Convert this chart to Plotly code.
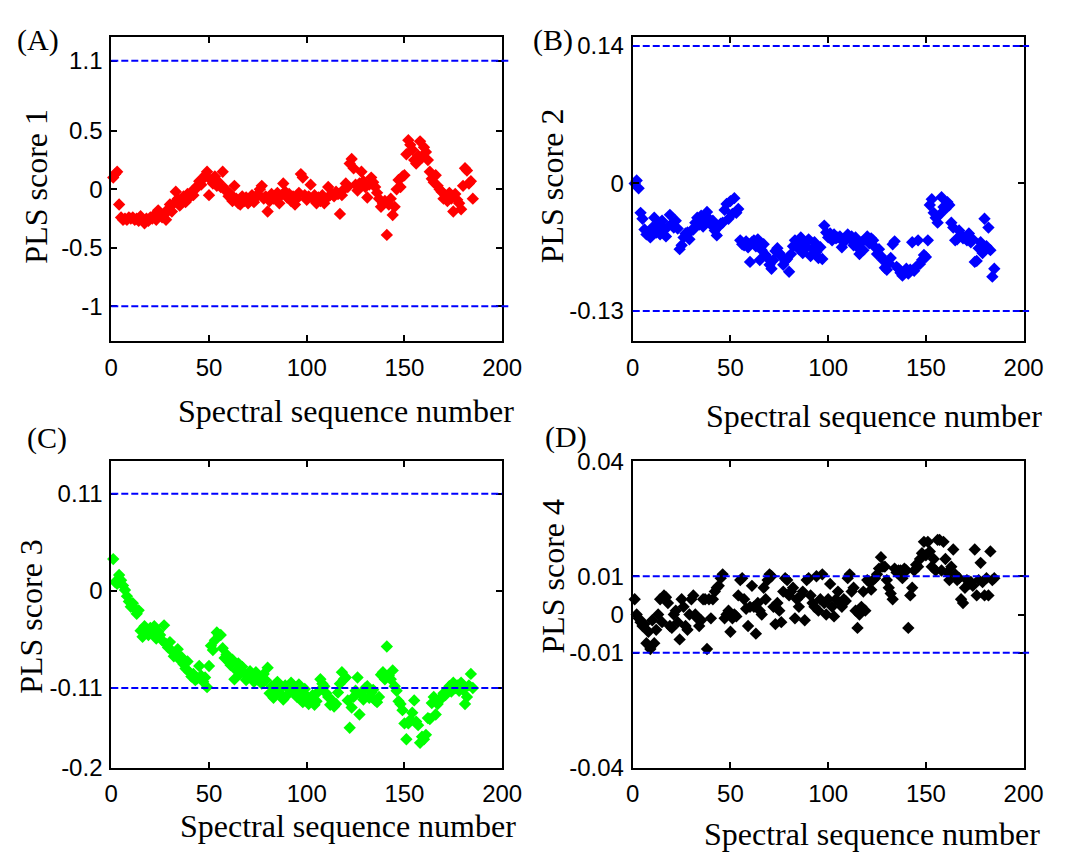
import plotly.graph_objects as go

# Spectral sequence numbers (x) shared by all four score plots
seq_numbers = list(range(1, 186))

# PLS score 1 (red)
pls_score1 = [
    0.10, 0.13, 0.15, -0.13, -0.24, -0.26, -0.25, -0.26, -0.24, -0.25,
    -0.24, -0.26, -0.25, -0.27, -0.23, -0.26, -0.29, -0.25, -0.27, -0.24,
    -0.25, -0.22, -0.26, -0.18, -0.21, -0.24, -0.22, -0.26, -0.17, -0.13,
    -0.19, -0.12, -0.02, -0.08, -0.14, -0.09, -0.06, -0.11, -0.04, -0.07,
    -0.02, -0.05, 0.00, 0.03, 0.07, 0.04, 0.09, 0.12, 0.15, -0.05,
    0.08, 0.05, 0.11, 0.03, 0.06, 0.02, 0.15, 0.01, -0.02, -0.06,
    -0.04, -0.10, 0.03, -0.08, -0.12, -0.13, -0.06, -0.10, -0.07, -0.12,
    -0.09, -0.05, -0.11, -0.07, -0.04, 0.00, 0.03, -0.08, -0.06, -0.19,
    -0.10, -0.04, -0.08, -0.06, -0.03, -0.12, -0.05, 0.05, -0.02, -0.07,
    -0.04, -0.10, -0.06, -0.13, -0.08, -0.03, 0.13, 0.10, -0.05, -0.09,
    -0.06, 0.04, -0.08, -0.05, -0.12, -0.07, -0.10, -0.05, -0.12, -0.08,
    0.02, -0.05, -0.04, -0.06, -0.02, -0.04, -0.21, -0.05, 0.00, 0.05,
    0.02, 0.22, 0.26, 0.18, 0.04, -0.01, 0.05, 0.15, 0.07, 0.02,
    -0.07, 0.04, 0.10, 0.06, 0.02, -0.03, -0.08, -0.15, -0.12, -0.10,
    -0.39, -0.13, -0.08, -0.22, -0.15, 0.00, 0.08, 0.02, 0.11, 0.12,
    0.30, 0.42, 0.38, 0.34, 0.25, 0.22, 0.29, 0.41, 0.27, 0.36,
    0.32, 0.25, 0.15, 0.09, 0.06, 0.12, 0.03, 0.00, -0.02, -0.08,
    -0.05, -0.10, -0.03, -0.08, -0.19, -0.04, -0.09, -0.12, -0.17, 0.03,
    0.18, 0.16, 0.05, 0.07, -0.08,
]

# PLS score 2 (blue)
pls_score2 = [
    0.000, 0.003, -0.005, -0.030, -0.036, -0.047, -0.052, -0.050, -0.055, -0.045,
    -0.035, -0.050, -0.042, -0.052, -0.038, -0.047, -0.054, -0.044, -0.032, -0.041,
    -0.045, -0.038, -0.046, -0.067, -0.063, -0.055, -0.051, -0.050, -0.057, -0.048,
    -0.047, -0.040, -0.035, -0.042, -0.033, -0.044, -0.040, -0.029, -0.036, -0.042,
    -0.038, -0.048, -0.053, -0.044, -0.041, -0.040, -0.027, -0.021, -0.036, -0.018,
    -0.031, -0.015, -0.030, -0.026, -0.058, -0.062, -0.063, -0.059, -0.065, -0.080,
    -0.060, -0.058, -0.064, -0.057, -0.078, -0.068, -0.062, -0.073, -0.076, -0.083,
    -0.087, -0.078, -0.069, -0.066, -0.071, -0.074, -0.083, -0.079, -0.077, -0.090,
    -0.072, -0.064, -0.058, -0.062, -0.067, -0.055, -0.071, -0.061, -0.065, -0.057,
    -0.074, -0.066, -0.060, -0.070, -0.076, -0.065, -0.077, -0.043, -0.050, -0.055,
    -0.051, -0.058, -0.052, -0.056, -0.055, -0.054, -0.065, -0.060, -0.057, -0.052,
    -0.056, -0.054, -0.063, -0.055, -0.065, -0.072, -0.060, -0.068, -0.057, -0.054,
    -0.061, -0.056, -0.058, -0.065, -0.072, -0.067, -0.074, -0.078, -0.086, -0.088,
    -0.081, -0.076, -0.062, -0.059, -0.085, -0.087, -0.091, -0.094, -0.090, -0.087,
    -0.092, -0.088, -0.060, -0.089, -0.085, -0.058, -0.082, -0.078, -0.073, -0.075,
    -0.058, -0.022, -0.016, -0.030, -0.035, -0.040, -0.032, -0.014, -0.024, -0.026,
    -0.019, -0.022, -0.040, -0.045, -0.058, -0.057, -0.048, -0.052, -0.056, -0.055,
    -0.058, -0.051, -0.060, -0.057, -0.080, -0.079, -0.066, -0.060, -0.071, -0.036,
    -0.064, -0.045, -0.068, -0.095, -0.087,
]

# PLS score 3 (green)
pls_score3 = [
    0.036, 0.010, 0.008, 0.018, 0.012, 0.006, 0.001, -0.006, -0.012, -0.018,
    -0.014, -0.020, -0.026, -0.022, -0.045, -0.052, -0.040, -0.044, -0.050, -0.042,
    -0.047, -0.040, -0.054, -0.046, -0.050, -0.056, -0.039, -0.060, -0.064, -0.058,
    -0.068, -0.074, -0.070, -0.066, -0.078, -0.075, -0.083, -0.088, -0.080, -0.092,
    -0.097, -0.094, -0.101, -0.099, -0.085, -0.096, -0.103, -0.098, -0.109, -0.085,
    -0.062, -0.067, -0.056, -0.047, -0.050, -0.050, -0.065, -0.076, -0.072, -0.080,
    -0.084, -0.078, -0.100, -0.090, -0.082, -0.094, -0.086, -0.093, -0.101, -0.097,
    -0.091, -0.096, -0.103, -0.092, -0.100, -0.097, -0.105, -0.094, -0.101, -0.087,
    -0.116, -0.108, -0.121, -0.112, -0.103, -0.115, -0.109, -0.123, -0.107, -0.118,
    -0.111, -0.104, -0.114, -0.109, -0.120, -0.106, -0.113, -0.126, -0.111, -0.119,
    -0.128, -0.123, -0.118, -0.129, -0.125, -0.114, -0.100, -0.105, -0.108, -0.116,
    -0.120, -0.129, -0.124, -0.131, -0.128, -0.115, -0.105, -0.092, -0.100, -0.098,
    -0.124, -0.155, -0.132, -0.120, -0.113, -0.098, -0.140, -0.117, -0.123, -0.110,
    -0.108, -0.121, -0.115, -0.112, -0.124, -0.126, -0.120, -0.095, -0.092, -0.100,
    -0.063, -0.096, -0.100, -0.090, -0.108, -0.113, -0.125, -0.128, -0.135, -0.150,
    -0.168, -0.150, -0.146, -0.138, -0.124, -0.148, -0.152, -0.172, -0.165, -0.168,
    -0.163, -0.144, -0.145, -0.127, -0.120, -0.140, -0.128, -0.124, -0.120, -0.116,
    -0.118, -0.112, -0.108, -0.114, -0.104, -0.110, -0.107, -0.113, -0.104, -0.112,
    -0.128, -0.120, -0.107, -0.094, -0.110,
]

# PLS score 4 (black)
pls_score4 = [
    0.0040, 0.0000, -0.0010, -0.0020, -0.0030, -0.0025, -0.0075, -0.0045, -0.0090, -0.0015,
    -0.0075, -0.0040, 0.0000, 0.0040, -0.0020, 0.0050, 0.0045, 0.0030, -0.0030, -0.0035,
    0.0000, 0.0010, -0.0020, -0.0065, 0.0040, 0.0020, -0.0030, -0.0040, 0.0000, 0.0040,
    0.0050, 0.0000, -0.0010, -0.0030, -0.0015, 0.0040, 0.0040, -0.0090, 0.0040, -0.0010,
    0.0040, 0.0060, 0.0070, 0.0075, 0.0095, 0.0105, -0.0010, 0.0000, 0.0010, -0.0045,
    -0.0010, 0.0000, -0.0005, 0.0050, 0.0090, 0.0095, 0.0040, 0.0015, -0.0030, 0.0020,
    0.0075, 0.0020, -0.0050, 0.0030, 0.0010, 0.0000, 0.0070, 0.0040, 0.0090, 0.0105,
    0.0100, 0.0020, -0.0025, 0.0030, 0.0010, -0.0020, 0.0060, 0.0095, 0.0090, 0.0050,
    0.0060, 0.0070, -0.0010, 0.0040, 0.0020, 0.0050, 0.0060, -0.0015, 0.0090, 0.0095,
    0.0050, 0.0030, 0.0020, 0.0100, 0.0010, 0.0040, 0.0105, 0.0030, 0.0000, 0.0040,
    0.0080, 0.0020, -0.0005, 0.0040, 0.0060, 0.0030, 0.0020, 0.0040, 0.0035, 0.0095,
    0.0105, 0.0060, 0.0070, 0.0010, -0.0035, 0.0000, 0.0020, 0.0060, 0.0010, 0.0090,
    0.0085, 0.0065, 0.0090, 0.0095, 0.0105, 0.0120, 0.0150, 0.0125, 0.0125, 0.0090,
    0.0070, 0.0055, 0.0040, 0.0120, 0.0110, 0.0115, 0.0115, 0.0095, 0.0120, 0.0115,
    -0.0035, 0.0050, 0.0070, 0.0115, 0.0130, 0.0125, 0.0145, 0.0160, 0.0190, 0.0155,
    0.0190, 0.0165, 0.0125, 0.0145, 0.0115, 0.0195, 0.0195, 0.0115, 0.0190, 0.0145,
    0.0110, 0.0090, 0.0125, 0.0170, 0.0105, 0.0090, 0.0095, 0.0040, 0.0030, 0.0070,
    0.0090, 0.0080, 0.0085, 0.0075, 0.0170, 0.0050, 0.0090, 0.0135, 0.0085, 0.0050,
    0.0095, 0.0050, 0.0165, 0.0090, 0.0095,
]

# Control limits drawn as dashed lines
limits_score1 = [1.1, -1.0]
limits_score2 = [0.14, -0.13]
limits_score3 = [0.11, -0.11]
limits_score4 = [0.01, -0.01]

# Axis ticks
x_ticks = [0, 50, 100, 150, 200]
y_ticks1 = [-1.0, -0.5, 0.0, 0.5, 1.1]
y_ticktext1 = ["-1", "-0.5", "0", "0.5", "1.1"]
y_ticks2 = [-0.13, 0.0, 0.14]
y_ticktext2 = ["-0.13", "0", "0.14"]
y_ticks3 = [-0.2, -0.11, 0.0, 0.11]
y_ticktext3 = ["-0.2", "-0.11", "0", "0.11"]
y_ticks4 = [-0.04, -0.01, 0.0, 0.01, 0.04]
y_ticktext4 = ["-0.04", "-0.01", "0", "0.01", "0.04"]

W, H = 1067, 859
SERIF = "Liberation Serif, Times New Roman, serif"
SANS = "Liberation Sans, Arial, sans-serif"


def px(x):
    return x / W


def py(y):
    return 1 - y / H


panels = [
    dict(label="(A)", values=pls_score1, color="#ff0000", limits=limits_score1,
         yrange=[-1.3, 1.3], yticks=y_ticks1, yticktext=y_ticktext1,
         ytitle="PLS score 1", box=(107, 508, 24, 338), line_ext=1.022,
         label_pos=(32, 27), ytitle_pos=(30, 178), xtitle_pos=(348, 410)),
    dict(label="(B)", values=pls_score2, color="#0000ff", limits=limits_score2,
         yrange=[-0.161, 0.149], yticks=y_ticks2, yticktext=y_ticktext2,
         ytitle="PLS score 2", box=(642, 1043, 24, 338), line_ext=1.014,
         label_pos=(560, 27), ytitle_pos=(560, 177), xtitle_pos=(889, 415)),
    dict(label="(C)", values=pls_score3, color="#00ff00", limits=limits_score3,
         yrange=[-0.2, 0.1465], yticks=y_ticks3, yticktext=y_ticktext3,
         ytitle="PLS score 3", box=(107, 508, 462, 778), line_ext=1.0,
         label_pos=(41, 438), ytitle_pos=(25, 622), xtitle_pos=(350, 838)),
    dict(label="(D)", values=pls_score4, color="#000000", limits=limits_score4,
         yrange=[-0.04, 0.04], yticks=y_ticks4, yticktext=y_ticktext4,
         ytitle="PLS score 4", box=(642, 1043, 462, 778), line_ext=1.014,
         label_pos=(573, 437), ytitle_pos=(560, 580), xtitle_pos=(887, 847)),
]

fig = go.Figure()
layout = dict(
    width=W, height=H,
    margin=dict(l=0, r=0, t=0, b=0),
    paper_bgcolor="white", plot_bgcolor="white",
    showlegend=False,
    shapes=[], annotations=[],
)

for i, p in enumerate(panels, start=1):
    xa = "x" if i == 1 else f"x{i}"
    ya = "y" if i == 1 else f"y{i}"
    left, right, top, bottom = p["box"]

    fig.add_trace(go.Scatter(
        x=seq_numbers[:len(p["values"])], y=p["values"],
        mode="markers", xaxis=xa, yaxis=ya,
        marker=dict(symbol="diamond", size=9.5, color=p["color"],
                    line=dict(width=0)),
        cliponaxis=False,
    ))

    axis_common = dict(
        showline=True, linecolor="black", linewidth=2, mirror="ticks",
        ticks="inside", ticklen=6, tickwidth=1.5, tickcolor="black",
        showgrid=False, zeroline=False,
        tickfont=dict(family=SANS, size=24, color="black"),
    )
    layout[f"xaxis{'' if i == 1 else i}"] = dict(
        axis_common, domain=[px(left), px(right)], range=[0, 200],
        tickvals=x_ticks, ticktext=[str(v) for v in x_ticks],
        anchor=ya, ticklabelstandoff=4,
    )
    layout[f"yaxis{'' if i == 1 else i}"] = dict(
        axis_common, domain=[py(bottom), py(top)], range=p["yrange"],
        tickvals=p["yticks"], ticktext=p["yticktext"],
        anchor=xa, ticklabelstandoff=2,
    )

    # dashed control limits
    for lim in p["limits"]:
        layout["shapes"].append(dict(
            type="line", xref=f"{xa} domain", yref=ya,
            x0=0, x1=p["line_ext"], y0=lim, y1=lim,
            line=dict(color="#0000ff", width=2, dash="7px,3px"),
            layer="above",
        ))

    lx, ly = p["label_pos"]
    layout["annotations"].append(dict(
        text=p["label"], x=px(lx), y=py(ly), xref="paper", yref="paper",
        xanchor="center", yanchor="middle", showarrow=False,
        font=dict(family=SERIF, size=30, color="black"),
    ))
    tx, ty = p["ytitle_pos"]
    layout["annotations"].append(dict(
        text=p["ytitle"], x=px(tx), y=py(ty), xref="paper", yref="paper",
        xanchor="center", yanchor="middle", textangle=-90, showarrow=False,
        font=dict(family=SERIF, size=32, color="black"),
    ))
    bx, by = p["xtitle_pos"]
    layout["annotations"].append(dict(
        text="Spectral sequence number", x=px(bx), y=py(by),
        xref="paper", yref="paper", xanchor="center", yanchor="middle",
        showarrow=False,
        font=dict(family=SERIF, size=32, color="black"),
    ))

fig.update_layout(**layout)
fig.write_html("out.html")
